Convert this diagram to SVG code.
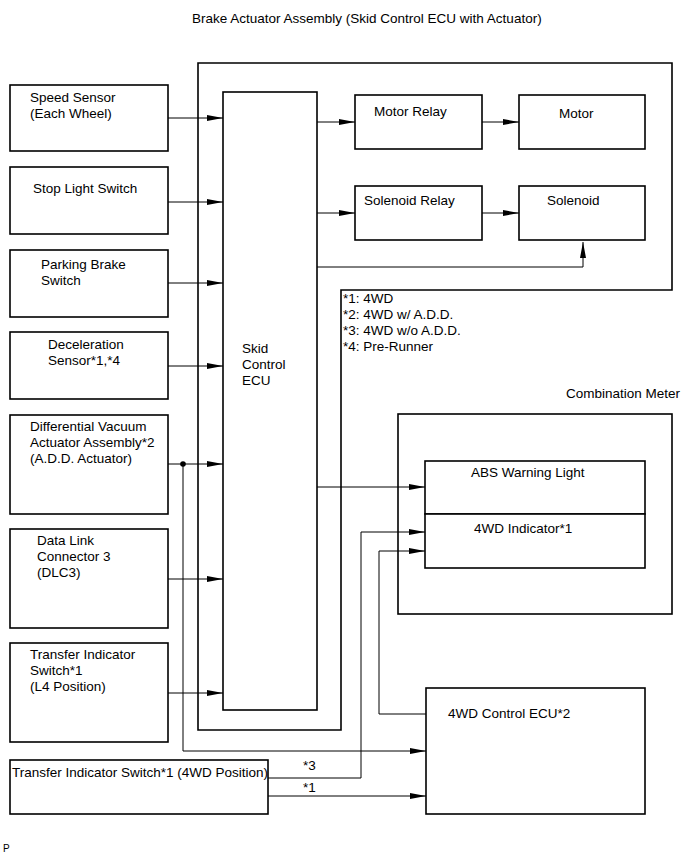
<svg xmlns="http://www.w3.org/2000/svg" width="690" height="854" viewBox="0 0 690 854">
<style>
text{font-family:"Liberation Sans",Arial,sans-serif;font-size:13.5px;fill:#000}
.box{fill:#fff;stroke:#000;stroke-width:1.6}
.frame{fill:none;stroke:#000;stroke-width:1.6}
.ln{fill:none;stroke:#000;stroke-width:1}
.arr{fill:none;stroke:#000;stroke-width:1;marker-end:url(#ah)}
</style>
<defs>
<marker id="ah" markerUnits="userSpaceOnUse" markerWidth="16" markerHeight="8" refX="16" refY="3" orient="auto">
<path d="M0,0 L16,3 L0,6 z" fill="#000"/>
</marker>
</defs>
<rect width="690" height="854" fill="#fff"/>

<g id="brake-actuator-assembly">
<polygon class="frame" points="198,63 672,63 672,290 341,290 341,730 198,730"/>
<text x="192" y="23">Brake Actuator Assembly (Skid Control ECU with Actuator)</text>
</g>

<g id="notes">
<text x="343" y="303">*1: 4WD</text>
<text x="343" y="319">*2: 4WD w/ A.D.D.</text>
<text x="343" y="335">*3: 4WD w/o A.D.D.</text>
<text x="343" y="351">*4: Pre-Runner</text>
</g>

<g id="speed-sensor">
<rect class="box" x="10" y="85" width="158" height="66"/>
<text x="30" y="102">Speed Sensor</text>
<text x="30" y="118">(Each Wheel)</text>
</g>
<g id="stop-light-switch">
<rect class="box" x="10" y="167" width="158" height="67"/>
<text x="33" y="193">Stop Light Switch</text>
</g>
<g id="parking-brake-switch">
<rect class="box" x="10" y="250" width="158" height="67"/>
<text x="41" y="269">Parking Brake</text>
<text x="41" y="285">Switch</text>
</g>
<g id="deceleration-sensor">
<rect class="box" x="10" y="332" width="158" height="67"/>
<text x="48" y="349">Deceleration</text>
<text x="48" y="365">Sensor*1,*4</text>
</g>
<g id="dva-assembly">
<rect class="box" x="10" y="415" width="158" height="99"/>
<text x="30" y="431">Differential Vacuum</text>
<text x="30" y="447">Actuator Assembly*2</text>
<text x="30" y="463">(A.D.D. Actuator)</text>
</g>
<g id="dlc3">
<rect class="box" x="10" y="529" width="158" height="99"/>
<text x="37" y="545">Data Link</text>
<text x="37" y="561">Connector 3</text>
<text x="37" y="577">(DLC3)</text>
</g>
<g id="transfer-l4">
<rect class="box" x="10" y="643" width="158" height="99"/>
<text x="30" y="659">Transfer Indicator</text>
<text x="30" y="675">Switch*1</text>
<text x="30" y="691">(L4 Position)</text>
</g>
<g id="transfer-4wd">
<rect class="box" x="10" y="760" width="258" height="54"/>
<text x="12" y="777">Transfer Indicator Switch*1 (4WD Position)</text>
</g>

<g id="skid-control-ecu">
<rect class="box" x="223" y="92" width="94" height="618"/>
<text x="242" y="353">Skid</text>
<text x="242" y="369">Control</text>
<text x="242" y="385">ECU</text>
</g>

<g id="motor-relay">
<rect class="box" x="355" y="95" width="127" height="54"/>
<text x="374" y="116">Motor Relay</text>
</g>
<g id="motor">
<rect class="box" x="519" y="95" width="126" height="54"/>
<text x="559" y="118">Motor</text>
</g>
<g id="solenoid-relay">
<rect class="box" x="355" y="186" width="127" height="54"/>
<text x="364" y="205">Solenoid Relay</text>
</g>
<g id="solenoid">
<rect class="box" x="519" y="186" width="126" height="54"/>
<text x="547" y="205">Solenoid</text>
</g>

<g id="combination-meter">
<rect class="box" x="398" y="414" width="274" height="200"/>
<text x="566" y="398">Combination Meter</text>
</g>
<g id="abs-warning-light">
<rect class="box" x="425" y="461" width="220" height="53"/>
<text x="471" y="477">ABS Warning Light</text>
</g>
<g id="4wd-indicator">
<rect class="box" x="425" y="514" width="220" height="54"/>
<text x="474" y="533">4WD Indicator*1</text>
</g>

<g id="4wd-control-ecu">
<rect class="box" x="426" y="688" width="219" height="126"/>
<text x="448" y="718">4WD Control ECU*2</text>
</g>

<g id="connectors">
<path class="arr" d="M168,118 H223"/>
<path class="arr" d="M168,202 H223"/>
<path class="arr" d="M168,283 H223"/>
<path class="arr" d="M168,366 H223"/>
<path class="arr" d="M168,464 H223"/>
<path class="arr" d="M168,579 H223"/>
<path class="arr" d="M168,693 H223"/>
<path class="arr" d="M317,122 H355"/>
<path class="arr" d="M482,122 H519"/>
<path class="arr" d="M317,213 H355"/>
<path class="arr" d="M482,213 H519"/>
<path class="arr" d="M317,267 H583 V242"/>
<path class="arr" d="M317,487 H425"/>
<circle cx="183" cy="464" r="2.8" fill="#000"/>
<path class="arr" d="M183,464 V751 H426"/>
<path class="arr" d="M426,714 H379 V551 H425"/>
<path class="arr" d="M268,778 H361 V532 H425"/>
<path class="arr" d="M268,796 H426"/>
<text x="303" y="770">*3</text>
<text x="303" y="792">*1</text>
</g>

<text x="3" y="852" style="font-size:10px">P</text>
</svg>
